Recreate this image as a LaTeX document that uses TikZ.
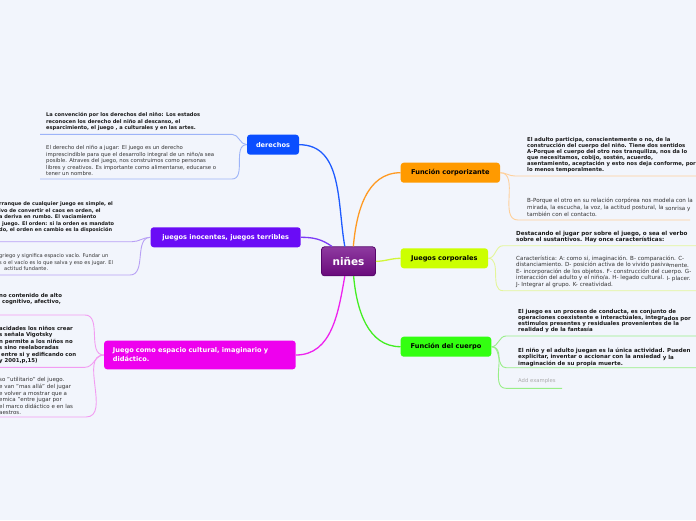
\documentclass[tikz,border=0pt]{standalone}
\usepackage{fontspec}
\setmainfont{DejaVu Sans}
\definecolor{bg}{HTML}{F2F5FC}
\definecolor{cder}{HTML}{0A4EFF}
\definecolor{cino}{HTML}{6A0CF6}
\definecolor{cjce}{HTML}{EE00EE}
\definecolor{cfco}{HTML}{FF9A00}
\definecolor{cjco}{HTML}{CCFF00}
\definecolor{cfcu}{HTML}{33FF11}
\definecolor{mder}{HTML}{1E5BFF}
\definecolor{mino}{HTML}{7C3CF6}
\definecolor{mjce}{HTML}{EE22EE}
\definecolor{mfco}{HTML}{FF9A22}
\definecolor{mjco}{HTML}{D2F53A}
\definecolor{mfcu}{HTML}{44EE22}
\definecolor{lder}{HTML}{9DB4F8}
\definecolor{lino}{HTML}{B8A0F5}
\definecolor{ljce}{HTML}{F29CF2}
\definecolor{lfco}{HTML}{FFD09A}
\definecolor{ljco}{HTML}{E4F59A}
\definecolor{lfcu}{HTML}{99EE88}
\definecolor{txtb}{HTML}{1A1A1A}
\definecolor{txtr}{HTML}{333333}
\definecolor{addgray}{HTML}{AAAAAA}
\definecolor{ctop}{HTML}{8E3AA0}
\definecolor{cbot}{HTML}{6A0A7B}
\definecolor{cbord}{HTML}{55066A}
\newcommand\lowtxt[1]{\raisebox{-0.9pt}{#1}}
\newcommand\bfs[2]{\fontsize{#1}{#2}\selectfont\bfseries}
\newcommand\rgs[2]{\fontsize{#1}{#2}\selectfont}
\begin{document}
\begin{tikzpicture}[x=1pt,y=-1pt,
  topic/.style={rounded corners=3pt, inner sep=0pt, minimum height=20pt,
    font=\fontsize{6.6}{8}\selectfont\bfseries},
  boldtext/.style={anchor=north west, inner sep=0pt, align=left, text=txtb,
    font=\bfs{5.1}{6.5}},
  plaintext/.style={anchor=north west, inner sep=0pt, align=left, text=txtr,
    font=\rgs{5.35}{6.5}},
  mainlink/.style={line width=1.3pt},
  sublink/.style={line width=0.9pt}]
\fill[bg] (0,0) rectangle (696,520);
\useasboundingbox (0,0) rectangle (696,520);
\clip (0,0) rectangle (696,520);

% ---------- nodes ----------
\node[draw=cbord, line width=0.8pt, rounded corners=3pt, top color=ctop, bottom color=cbot,
  minimum width=54pt, minimum height=29pt, inner sep=0pt, text=white,
  font=\fontsize{10.5}{12}\selectfont\bfseries] (c) at (348.5,261.3) {niñes};

\node[topic, fill=cder, text=white, minimum width=52pt] (der) at (273,144.7) {derechos};
\node[topic, fill=cino, text=white, minimum width=150pt] (ino) at (225.7,237.3) {juegos inocentes, juegos terribles};
\node[topic, fill=cjce, text=white, text width=174pt, inner xsep=8.8pt, minimum height=28.6pt, align=left,
  font=\fontsize{6.6}{9}\selectfont\bfseries] (jce) at (199.9,355)
  {Juego como espacio cultural, imaginario y\\didáctico.};
\node[topic, fill=cfco, text=black, minimum width=99.3pt] (fco) at (450.35,172.7) {Función corporizante};
\node[topic, fill=cjco, text=black, minimum width=87.3pt] (jco) at (444.35,258.3) {Juegos corporales};
\node[topic, fill=cfcu, text=black, minimum width=90.6pt] (fcu) at (446,346.7) {Función del cuerpo};

% ---------- main connectors ----------
\draw[mainlink, mder] (der.east) to[out=0,in=100] (c.104);
\draw[mainlink, mino] (ino.east) to[out=0,in=145] (c.138);
\draw[mainlink, mjce] (jce.east) to[out=0,in=-100] (c.256);
\draw[mainlink, mfco] (c.72) to[out=85,in=180] (fco.west);
\draw[mainlink, mjco] (c.east) to[out=0,in=180] (jco.west);
\draw[mainlink, mfcu] (c.289) to[out=-85,in=180] (fcu.west);

% ---------- derechos ----------
\node[boldtext] (d1) at (46,112.5) {La convención por los derechos del niño: Los estados\\reconocen los derecho del niño al descanso, el\\esparcimiento, el juego , a culturales y en las artes.};
\node[plaintext] (d2) at (46,145.5) {El derecho del niño a jugar: El juego es un derecho\\imprescindible para que el desarrollo integral de un niño/a sea\\posible. Atraves del juego, nos construimos como personas\\libres y creativos. Es importante como alimentarse, educarse o\\tener un nombre.};
\coordinate (d1a) at (232,134.3);
\coordinate (d1b) at (40,134.3);
\coordinate (d2a) at (232,179);
\coordinate (d2b) at (40,179);
\draw[sublink, lder] (der.west) to[out=180,in=0] (d1a) -- (d1b);
\draw[sublink, lder] (der.west) to[out=180,in=0] (d2a) -- (d2b);

% ---------- juegos inocentes ----------
\node[boldtext, font=\bfs{5}{6.5}] (i1) at (-1,201.5) {rranque de cualquier juego es simple, el\\ivo de convertir el caos en orden, el\\a deriva en rumbo. El vaciamiento\\\hspace{3pt}juego. El orden: si la orden es mandato\\do, el orden en cambio es la disposición};
\node[plaintext, font=\rgs{5.1}{6.5}] (i2) at (-1,253.5) {griego y significa espacio vacío. Fundar un\\s o el vacío es lo que salva y eso es jugar. El\\\hspace{5pt}actitud fundante.};
\coordinate (i1a) at (132,241.7);
\coordinate (i1b) at (0,241.7);
\coordinate (i2a) at (130,275);
\coordinate (i2b) at (0,275);
\draw[sublink, lino] (ino.west) to[out=180,in=0] (i1a) -- (i1b);
\draw[sublink, lino] (ino.west) to[out=180,in=0] (i2a) -- (i2b);

% ---------- juego como espacio ----------
\node[boldtext, font=\bfs{5.4}{6.6}] (j1) at (-1,293) {no contenido de alto\\\hspace{3pt}cognitivo, afectivo,};
\node[boldtext, font=\bfs{5.4}{6.5}] (j2) at (-1,326) {acidades los niños crear\\s señala Vigotsky\\n permite a los niños no\\s sino reelaboradas\\\hspace{2pt}entre si y edificando con\\y 2001,p,15)};
\node[plaintext, font=\rgs{5.5}{6.6}] (j3) at (-1,377.5) {so "utilitario" del juego.\\e van "mas allá" del jugar\\e volver a mostrar que a\\emica "entre jugar por\\el marco didáctico  e en las\\aestros.};
\coordinate (j1a) at (85,315);
\coordinate (j1b) at (0,315);
\coordinate (j2a) at (85,367.3);
\coordinate (j2b) at (0,367.3);
\coordinate (j3a) at (86,417);
\coordinate (j3b) at (0,417);
\draw[sublink, ljce] (jce.west) to[out=180,in=0] (j1a) -- (j1b);
\draw[sublink, ljce] (jce.west) to[out=180,in=0] (j2a) -- (j2b);
\draw[sublink, ljce] (jce.west) to[out=180,in=0] (j3a) -- (j3b);

% ---------- funcion corporizante ----------
\node[boldtext, font=\bfs{5.3}{6}] (f1) at (527,136.8) {El adulto participa, conscientemente o no, de la\\construcción del cuerpo del niño. Tiene dos \lowtxt{sentidos}\\A-Porque el cuerpo del otro nos tranquiliza, nos da lo\\que necesitamos, cobijo, sostén, acuerdo,\\asentamiento, aceptación y esto nos deja conforme, por\\lo menos temporalmente.};
\node[plaintext, font=\rgs{5.6}{6.3}] (f2) at (527,198.2) {B-Porque el otro en su relación corpórea nos modela con la\\mirada, la escucha, la voz, la actitud postural, la \lowtxt{sonrisa y}\\también con el contacto.};
\coordinate (f1a) at (515,176);
\coordinate (f1b) at (696,176);
\coordinate (f2a) at (518,220);
\coordinate (f2b) at (690,220);
\draw[sublink, lfco] (fco.east) to[out=0,in=180] (f1a) -- (f1b);
\draw[sublink, lfco] (fco.east) to[out=0,in=180] (f2a) -- (f2b);

% ---------- juegos corporales ----------
\node[boldtext, font=\bfs{5.6}{6}] (k1) at (516,230.8) {Destacando el jugar por sobre el juego, o sea el verbo\\sobre el sustantivos. Hay once características:};
\node[plaintext, font=\rgs{5.6}{6.5}] (k2) at (516,255.8) {Característica: A: como si, imaginación. B- comparación. C-\\distanciamiento. D- posición activa de lo vivido pasiva\lowtxt{mente.}\\E- incorporación de los objetos. F- construcción del cuerpo. G-\\interacción del adulto  y el niño/a. H- legado cultural. \lowtxt{I- placer.}\\J- Integrar al grupo. K- creatividad.};
\coordinate (k1a) at (503,245.7);
\coordinate (k1b) at (696,245.7);
\coordinate (k2a) at (503,290.7);
\coordinate (k2b) at (696,290.7);
\draw[sublink, ljco] (jco.east) to[out=0,in=180] (k1a) -- (k1b);
\draw[sublink, ljco] (jco.east) to[out=0,in=180] (k2a) -- (k2b);

% ---------- funcion del cuerpo ----------
\node[boldtext, font=\bfs{5.45}{6.2}] (u1) at (518,308.8) {El juego es un proceso de conducta, es conjunto de\\operaciones coexistente e interactúales, integr\lowtxt{ados por}\\estimulos presentes y residuales provenientes de la\\realidad y de la fantasía};
\node[boldtext, font=\bfs{5.5}{6.2}] (u2) at (518,347.5) {El niño y el adulto juegan es la única actividad. Pueden\\explicitar, inventar o accionar con la ansiedad \lowtxt{y la}\\imaginación de su propia muerte.};
\node[plaintext, text=addgray, font=\rgs{5.3}{6.2}] (u3) at (518,378.5) {Add examples};
\coordinate (u1a) at (506,336);
\coordinate (u1b) at (696,336);
\coordinate (u2a) at (506,367.7);
\coordinate (u2b) at (696,367.7);
\coordinate (u3a) at (506,388.3);
\coordinate (u3b) at (562,388.3);
\draw[sublink, lfcu] (fcu.east) to[out=0,in=180] (u1a) -- (u1b);
\draw[sublink, lfcu] (fcu.east) to[out=0,in=180] (u2a) -- (u2b);
\draw[sublink, lfcu] (fcu.east) to[out=0,in=180] (u3a) -- (u3b);
\end{tikzpicture}
\end{document}
